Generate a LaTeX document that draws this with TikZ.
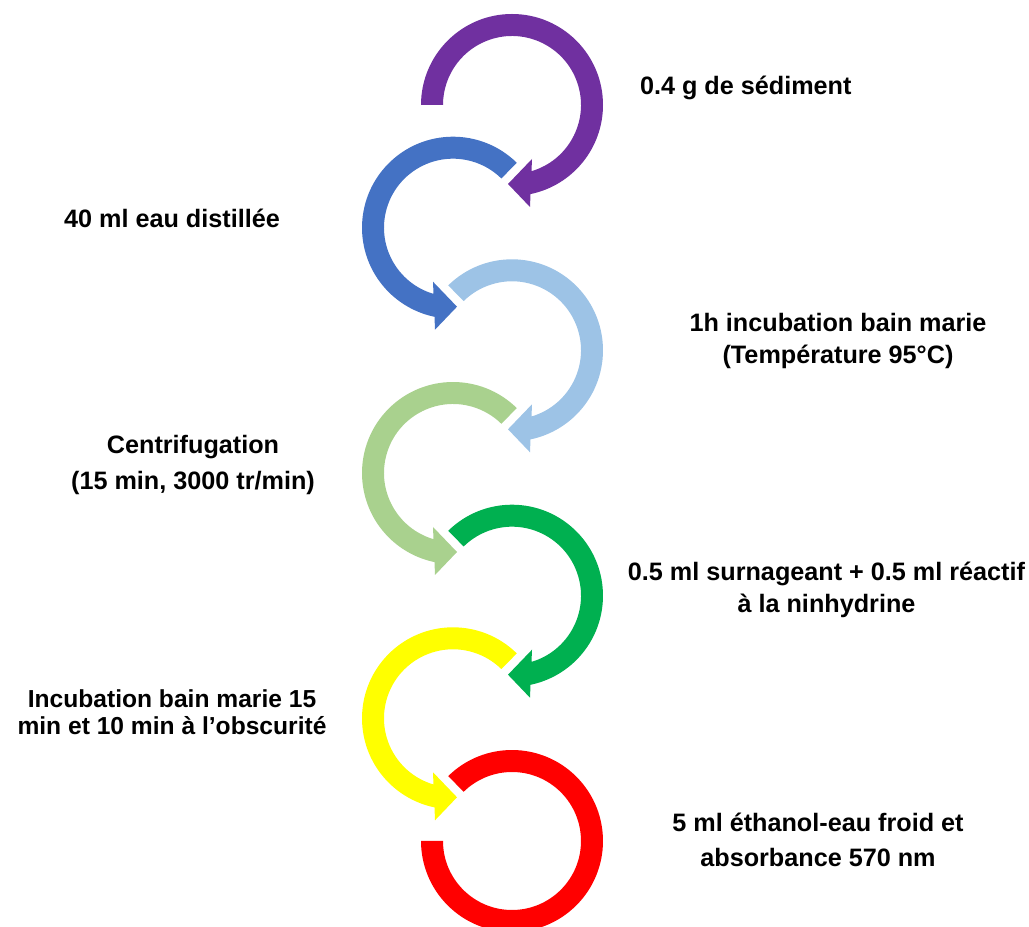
\documentclass[tikz,border=0pt]{standalone}
\usepackage{fontspec}
\setmainfont{Liberation Sans}
\definecolor{stepviolet}{HTML}{7030A0}
\definecolor{stepblue}{HTML}{4472C4}
\definecolor{stepsky}{HTML}{9DC3E6}
\definecolor{stepsage}{HTML}{A9D18E}
\definecolor{stepgreen}{HTML}{00B050}
\definecolor{stepyellow}{HTML}{FFFF00}
\definecolor{stepred}{HTML}{FF0000}
% clockwise ring arrow (right column): #1 centre, #2 start angle, #3 colour
\newcommand\arrowcw[3]{%
  \fill[#3,shift={(#1)}] (#2:91) arc[start angle=#2, end angle=-78.27, radius=91]
    -- (18,-102) -- (-4,-79) -- (20,-54)
    -- (-73.58:69) arc[start angle=-73.58, end angle=#2, radius=69] -- cycle;}
% counter-clockwise ring arrow (left column)
\newcommand\arrowccw[3]{%
  \fill[#3,shift={(#1)}] (#2:91) arc[start angle=#2, end angle=258.27, radius=91]
    -- (-18,-102) -- (4,-79) -- (-20,-54)
    -- (253.58:69) arc[start angle=253.58, end angle=#2, radius=69] -- cycle;}
\begin{document}
\begin{tikzpicture}[x=1pt,y=1pt,
  lbl/.style={font=\bfseries\fontsize{25.2}{#1}\selectfont, align=center, anchor=base, inner sep=0pt},
  lbl/.default=30]
\useasboundingbox (0,0) rectangle (1029,927);
\clip (0,0) rectangle (1029,927);

% ring centres
\coordinate (c1) at (512,822);
\coordinate (c2) at (453,699.3);
\coordinate (c3) at (512,576.7);
\coordinate (c4) at (453,454);
\coordinate (c5) at (512,331.3);
\coordinate (c6) at (453,208.7);
\coordinate (c7) at (512,86);

% ring arrows
\arrowcw{c1}{180}{stepviolet}
\arrowccw{c2}{45.5}{stepblue}
\arrowcw{c3}{134.5}{stepsky}
\arrowccw{c4}{45.5}{stepsage}
\arrowcw{c5}{134.5}{stepgreen}
\arrowccw{c6}{45.5}{stepyellow}
\fill[stepred,shift={(c7)}] (134.5:91) arc[start angle=134.5, end angle=-180, radius=91]
  -- (180:69) arc[start angle=-180, end angle=134.5, radius=69] -- cycle;

% step labels (base anchor = baseline of the last line)
\node[lbl] (t1) at (745.8,832) {0.4 g de sédiment};
\node[lbl] (t2) at (172,699) {40 ml eau distillée};
\node[lbl=31.7] (t3) at (838,563.7) {1h incubation bain marie\\(Température 95°C)};
\node[lbl=36] (t4) at (193,437.7) {Centrifugation\\(15 min, 3000 tr/min)};
\node[lbl=31.3] (t5) at (826.5,314.7) {0.5 ml surnageant + 0.5 ml réactif\\à la ninhydrine};
\node[lbl=27.7,font=\bfseries\fontsize{24.6}{27.7}\selectfont] (t6) at (172,192) {Incubation bain marie 15\\min et 10 min à l’obscurité};
\node[lbl=35] (t7) at (818,60.3) {5 ml éthanol-eau froid et\\absorbance 570 nm};
\end{tikzpicture}
\end{document}
